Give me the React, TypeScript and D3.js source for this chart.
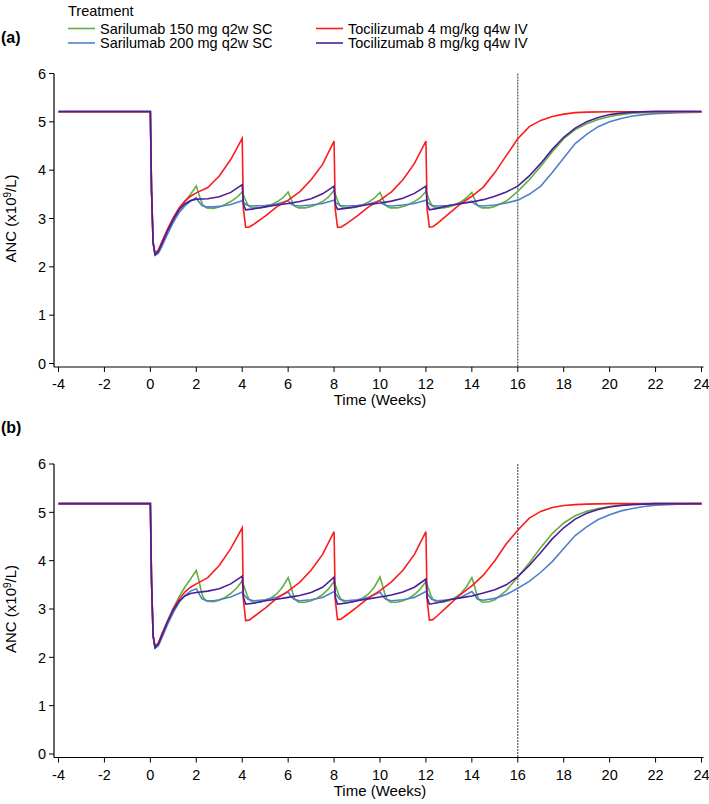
import React from "react";
import * as d3 from "d3";

type Pt = [number, number];

const weekTicks = [-4, -2, 0, 2, 4, 6, 8, 10, 12, 14, 16, 18, 20, 22, 24];
const ancTicks = [0, 1, 2, 3, 4, 5, 6];
const treatments = [
  "Sarilumab 150 mg q2w SC",
  "Sarilumab 200 mg q2w SC",
  "Tocilizumab 4 mg/kg q4w IV",
  "Tocilizumab 8 mg/kg q4w IV",
];
const colors = ["#62af45", "#5080ca", "#fb1c1c", "#4b1e98"];

// panel (a)
const aSari150: Pt[] = [
  [-4, 5.2], [0, 5.2], [0.05, 3.6], [0.12, 2.5], [0.2, 2.27], [0.35, 2.33], [0.5, 2.48], [0.75, 2.74], [1, 2.97], [1.25, 3.18], [1.5, 3.34], [1.75, 3.5], [2, 3.67],
  [2.1, 3.52], [2.2, 3.38], [2.3, 3.27], [2.45, 3.22], [2.75, 3.21], [3, 3.24], [3.25, 3.29], [3.5, 3.35], [3.75, 3.43], [4, 3.55],
  [4.1, 3.43], [4.2, 3.32], [4.3, 3.25], [4.45, 3.22], [4.75, 3.22], [5, 3.24], [5.25, 3.28], [5.5, 3.34], [5.75, 3.42], [6, 3.55],
  [6.1, 3.43], [6.2, 3.32], [6.3, 3.25], [6.45, 3.22], [6.75, 3.22], [7, 3.25], [7.25, 3.29], [7.5, 3.35], [7.75, 3.44], [8, 3.58],
  [8.1, 3.44], [8.2, 3.32], [8.3, 3.25], [8.45, 3.22], [8.75, 3.22], [9, 3.24], [9.25, 3.28], [9.5, 3.34], [9.75, 3.42], [10, 3.54],
  [10.1, 3.43], [10.2, 3.32], [10.3, 3.25], [10.45, 3.22], [10.75, 3.22], [11, 3.25], [11.25, 3.29], [11.5, 3.35], [11.75, 3.43], [12, 3.56],
  [12.1, 3.44], [12.2, 3.32], [12.3, 3.25], [12.45, 3.22], [12.75, 3.22], [13, 3.24], [13.25, 3.28], [13.5, 3.34], [13.75, 3.42], [14, 3.54],
  [14.1, 3.42], [14.2, 3.31], [14.3, 3.25], [14.45, 3.22], [14.75, 3.22], [15, 3.25], [15.5, 3.36], [16, 3.56], [16.5, 3.8], [17, 4.08],
  [17.5, 4.38], [18, 4.65], [18.5, 4.84], [19, 4.96], [19.5, 5.05], [20, 5.11], [20.5, 5.15], [21, 5.18], [22, 5.2], [24, 5.2],
];
const aSari200: Pt[] = [
  [-4, 5.2], [0, 5.2], [0.05, 3.6], [0.12, 2.5], [0.22, 2.24], [0.35, 2.28], [0.5, 2.42], [0.75, 2.68], [1, 2.92], [1.25, 3.12], [1.5, 3.26], [1.75, 3.36], [2, 3.43],
  [2.1, 3.35], [2.25, 3.27], [2.45, 3.24], [2.75, 3.24], [3, 3.25], [3.5, 3.29], [4, 3.37],
  [4.1, 3.31], [4.25, 3.27], [4.5, 3.26], [5, 3.27], [5.5, 3.3], [6, 3.37],
  [6.1, 3.31], [6.25, 3.27], [6.5, 3.26], [7, 3.28], [7.5, 3.31], [8, 3.38],
  [8.1, 3.32], [8.25, 3.27], [8.5, 3.26], [9, 3.27], [9.5, 3.3], [10, 3.37],
  [10.1, 3.31], [10.25, 3.27], [10.5, 3.26], [11, 3.28], [11.5, 3.31], [12, 3.38],
  [12.1, 3.32], [12.25, 3.27], [12.5, 3.26], [13, 3.27], [13.5, 3.3], [14, 3.36],
  [14.1, 3.31], [14.25, 3.27], [14.5, 3.26], [15, 3.28], [15.5, 3.32], [16, 3.38], [16.5, 3.5], [17, 3.67], [17.5, 3.95], [18, 4.25],
  [18.5, 4.55], [19, 4.74], [19.5, 4.9], [20, 5.0], [20.5, 5.07], [21, 5.12], [21.5, 5.15], [22, 5.17], [23, 5.19], [24, 5.2],
];
const aToci4: Pt[] = [
  [-4, 5.21], [0, 5.21], [0.05, 3.6], [0.12, 2.5], [0.2, 2.28], [0.35, 2.35], [0.5, 2.52], [0.75, 2.78], [1, 3.02], [1.25, 3.22], [1.5, 3.36], [1.75, 3.46], [2, 3.53], [2.5, 3.64], [3, 3.88], [3.5, 4.22], [4, 4.66],
  [4.05, 3.2], [4.15, 2.82], [4.3, 2.82], [4.5, 2.88], [5, 3.05], [5.5, 3.24], [6, 3.38], [6.5, 3.55], [7, 3.8], [7.5, 4.12], [8, 4.6],
  [8.05, 3.2], [8.15, 2.82], [8.3, 2.82], [8.5, 2.88], [9, 3.05], [9.5, 3.24], [10, 3.38], [10.5, 3.55], [11, 3.8], [11.5, 4.14], [12, 4.6],
  [12.05, 3.2], [12.15, 2.82], [12.3, 2.83], [12.5, 2.9], [13, 3.1], [13.5, 3.3], [14, 3.46], [14.5, 3.65], [15, 3.95], [15.5, 4.3], [16, 4.65],
  [16.5, 4.9], [17, 5.03], [17.5, 5.11], [18, 5.16], [18.5, 5.19], [19, 5.2], [20, 5.21], [24, 5.21],
];
const aToci8: Pt[] = [
  [-4, 5.22], [0, 5.22], [0.05, 3.6], [0.12, 2.5], [0.2, 2.25], [0.35, 2.32], [0.5, 2.48], [0.75, 2.75], [1, 2.98], [1.25, 3.18], [1.5, 3.3], [1.75, 3.37], [2, 3.4], [2.5, 3.41], [3, 3.45], [3.5, 3.54], [4, 3.7],
  [4.05, 3.3], [4.15, 3.18], [4.5, 3.2], [5, 3.24], [5.5, 3.28], [6, 3.31], [6.5, 3.35], [7, 3.41], [7.5, 3.51], [8, 3.67],
  [8.05, 3.3], [8.15, 3.19], [8.5, 3.21], [9, 3.25], [9.5, 3.29], [10, 3.32], [10.5, 3.36], [11, 3.42], [11.5, 3.52], [12, 3.67],
  [12.05, 3.3], [12.15, 3.18], [12.5, 3.21], [13, 3.27], [13.5, 3.31], [14, 3.34], [14.5, 3.39], [15, 3.46], [15.5, 3.55], [16, 3.67],
  [16.5, 3.88], [17, 4.14], [17.5, 4.43], [18, 4.68], [18.5, 4.87], [19, 5.0], [19.5, 5.09], [20, 5.15], [20.5, 5.18], [21, 5.2], [22, 5.22], [24, 5.22],
];

// panel (b)
const bSari150: Pt[] = [
  [-4, 5.18], [0, 5.18], [0.05, 3.6], [0.12, 2.45], [0.2, 2.21], [0.35, 2.28], [0.5, 2.45], [0.75, 2.75], [1, 3.02], [1.25, 3.25], [1.5, 3.45], [1.75, 3.62], [2, 3.8],
  [2.1, 3.62], [2.2, 3.4], [2.3, 3.24], [2.45, 3.16], [2.75, 3.15], [3, 3.18], [3.25, 3.24], [3.5, 3.32], [3.75, 3.43], [4, 3.58],
  [4.1, 3.44], [4.2, 3.3], [4.3, 3.2], [4.45, 3.14], [4.75, 3.14], [5, 3.17], [5.25, 3.23], [5.5, 3.31], [5.75, 3.45], [6, 3.65],
  [6.1, 3.5], [6.2, 3.33], [6.3, 3.2], [6.45, 3.14], [6.75, 3.14], [7, 3.17], [7.25, 3.22], [7.5, 3.3], [7.75, 3.41], [8, 3.57],
  [8.1, 3.44], [8.2, 3.3], [8.3, 3.2], [8.45, 3.14], [8.75, 3.14], [9, 3.17], [9.25, 3.23], [9.5, 3.31], [9.75, 3.45], [10, 3.66],
  [10.1, 3.5], [10.2, 3.33], [10.3, 3.2], [10.45, 3.14], [10.75, 3.14], [11, 3.17], [11.25, 3.22], [11.5, 3.3], [11.75, 3.41], [12, 3.57],
  [12.1, 3.44], [12.2, 3.3], [12.3, 3.2], [12.45, 3.14], [12.75, 3.14], [13, 3.17], [13.25, 3.23], [13.5, 3.31], [13.75, 3.45], [14, 3.65],
  [14.1, 3.5], [14.2, 3.32], [14.3, 3.2], [14.45, 3.14], [14.75, 3.15], [15, 3.19], [15.5, 3.38], [16, 3.66], [16.5, 3.95], [17, 4.27],
  [17.5, 4.56], [18, 4.78], [18.5, 4.93], [19, 5.02], [19.5, 5.08], [20, 5.12], [20.5, 5.15], [21, 5.17], [22, 5.18], [24, 5.18],
];
const bSari200: Pt[] = [
  [-4, 5.18], [0, 5.18], [0.05, 3.6], [0.12, 2.45], [0.22, 2.19], [0.35, 2.24], [0.5, 2.4], [0.75, 2.68], [1, 2.93], [1.25, 3.14], [1.5, 3.28], [1.75, 3.37], [2, 3.42],
  [2.1, 3.33], [2.25, 3.21], [2.45, 3.17], [2.75, 3.17], [3, 3.19], [3.5, 3.25], [4, 3.35],
  [4.1, 3.28], [4.25, 3.2], [4.5, 3.17], [5, 3.19], [5.5, 3.24], [6, 3.35],
  [6.1, 3.28], [6.25, 3.2], [6.5, 3.17], [7, 3.19], [7.5, 3.24], [8, 3.36],
  [8.1, 3.29], [8.25, 3.2], [8.5, 3.17], [9, 3.19], [9.5, 3.24], [10, 3.35],
  [10.1, 3.28], [10.25, 3.2], [10.5, 3.17], [11, 3.19], [11.5, 3.24], [12, 3.36],
  [12.1, 3.29], [12.25, 3.2], [12.5, 3.17], [13, 3.19], [13.5, 3.24], [14, 3.36],
  [14.1, 3.3], [14.25, 3.2], [14.5, 3.18], [15, 3.22], [15.5, 3.3], [16, 3.43], [16.5, 3.57], [17, 3.76], [17.5, 3.98], [18, 4.25],
  [18.5, 4.52], [19, 4.7], [19.5, 4.85], [20, 4.95], [20.5, 5.03], [21, 5.08], [21.5, 5.12], [22, 5.15], [23, 5.17], [24, 5.18],
];
const bToci4: Pt[] = [
  [-4, 5.18], [0, 5.18], [0.05, 3.6], [0.12, 2.45], [0.2, 2.22], [0.35, 2.3], [0.5, 2.48], [0.75, 2.75], [1, 3.0], [1.25, 3.2], [1.5, 3.35], [1.75, 3.45], [2, 3.52], [2.5, 3.65], [3, 3.9], [3.5, 4.25], [4, 4.68],
  [4.05, 3.2], [4.15, 2.76], [4.3, 2.77], [4.5, 2.84], [5, 3.02], [5.5, 3.22], [6, 3.37], [6.5, 3.55], [7, 3.8], [7.5, 4.13], [8, 4.6],
  [8.05, 3.2], [8.15, 2.78], [8.3, 2.79], [8.5, 2.86], [9, 3.04], [9.5, 3.23], [10, 3.38], [10.5, 3.56], [11, 3.8], [11.5, 4.13], [12, 4.6],
  [12.05, 3.2], [12.15, 2.77], [12.3, 2.78], [12.5, 2.86], [13, 3.08], [13.5, 3.3], [14, 3.48], [14.5, 3.7], [15, 4.0], [15.5, 4.35], [16, 4.63],
  [16.5, 4.88], [17, 5.02], [17.5, 5.1], [18, 5.14], [18.5, 5.16], [19, 5.17], [20, 5.18], [24, 5.18],
];
const bToci8: Pt[] = [
  [-4, 5.18], [0, 5.18], [0.05, 3.6], [0.12, 2.45], [0.2, 2.2], [0.35, 2.28], [0.5, 2.45], [0.75, 2.74], [1, 2.98], [1.25, 3.16], [1.5, 3.27], [1.75, 3.32], [2, 3.34], [2.5, 3.37], [3, 3.42], [3.5, 3.52], [4, 3.68],
  [4.05, 3.25], [4.15, 3.1], [4.5, 3.12], [5, 3.17], [5.5, 3.2], [6, 3.24], [6.5, 3.28], [7, 3.34], [7.5, 3.45], [8, 3.66],
  [8.05, 3.25], [8.15, 3.1], [8.5, 3.12], [9, 3.17], [9.5, 3.21], [10, 3.25], [10.5, 3.29], [11, 3.35], [11.5, 3.45], [12, 3.62],
  [12.05, 3.24], [12.15, 3.1], [12.5, 3.13], [13, 3.19], [13.5, 3.23], [14, 3.27], [14.5, 3.33], [15, 3.4], [15.5, 3.5], [16, 3.67],
  [16.5, 3.9], [17, 4.17], [17.5, 4.45], [18, 4.68], [18.5, 4.86], [19, 4.98], [19.5, 5.06], [20, 5.11], [20.5, 5.14], [21, 5.16], [22, 5.18], [24, 5.18],
];

const FONT = "'Liberation Sans', Arial, sans-serif";
const W = 709;
const H = 804;

// draw order: green, blue, red, purple
const ORDER = [0, 1, 2, 3];

function Panel({ tag, top, series }: { tag: string; top: number; series: Pt[][] }) {
  const x = d3.scaleLinear().domain([-4, 24]).range([58.5, 701.5]);
  const y = d3.scaleLinear().domain([0, 6]).range([top + 290, top]);
  const axisY = y(0) + 3.5;
  const axisX = 54;
  const line = d3
    .line<Pt>()
    .x((d) => x(d[0]))
    .y((d) => y(d[1]));

  return (
    <g>
      <text x={1} y={top - 31} fontFamily={FONT} fontWeight="bold" fontSize={16}>
        {tag}
      </text>

      {/* y axis */}
      <line x1={axisX} x2={axisX} y1={y(6)} y2={axisY} stroke="#000" strokeWidth={1.2} />
      {ancTicks.map((t) => (
        <g key={t}>
          <line x1={axisX - 5} x2={axisX} y1={y(t)} y2={y(t)} stroke="#000" strokeWidth={1} />
          <text x={axisX - 8} y={y(t)} dy="0.36em" textAnchor="end" fontFamily={FONT} fontSize={14.5}>
            {t}
          </text>
        </g>
      ))}
      <text
        transform={`translate(16,${(y(0) + y(6)) / 2}) rotate(-90)`}
        textAnchor="middle"
        fontFamily={FONT}
        fontSize={15}
      >
        ANC (x10<tspan dy="-5" fontSize={10}>9</tspan>
        <tspan dy="5">/L)</tspan>
      </text>

      {/* x axis */}
      <line x1={axisX} x2={x(24) + 2} y1={axisY} y2={axisY} stroke="#000" strokeWidth={1.2} />
      {weekTicks.map((t) => (
        <g key={t}>
          <line x1={x(t)} x2={x(t)} y1={axisY} y2={axisY + 5} stroke="#000" strokeWidth={1} />
          <text x={x(t)} y={axisY + 22} textAnchor="middle" fontFamily={FONT} fontSize={14.5}>
            {t}
          </text>
        </g>
      ))}
      <text x={(x(-4) + x(24)) / 2} y={axisY + 38} textAnchor="middle" fontFamily={FONT} fontSize={15}>
        Time (Weeks)
      </text>

      {/* end of treatment */}
      <line
        x1={x(16)}
        x2={x(16)}
        y1={y(6)}
        y2={axisY}
        stroke="#333"
        strokeWidth={1}
        strokeDasharray="2,1"
      />

      {ORDER.map((i) => (
        <path key={i} d={line(series[i]) ?? ""} fill="none" stroke={colors[i]} strokeWidth={1.6} />
      ))}
    </g>
  );
}

function Legend() {
  const rows = [
    { i: 0, x: 68, y: 28.5 },
    { i: 1, x: 68, y: 43 },
    { i: 2, x: 316, y: 28.5 },
    { i: 3, x: 316, y: 43 },
  ];
  return (
    <g fontFamily={FONT} fontSize={14.5}>
      <text x={68} y={15.5}>Treatment</text>
      {rows.map((r) => (
        <g key={r.i}>
          <line x1={r.x} x2={r.x + 27} y1={r.y} y2={r.y} stroke={colors[r.i]} strokeWidth={1.6} />
          <text x={r.x + 32} y={r.y} dy="0.35em">
            {treatments[r.i]}
          </text>
        </g>
      ))}
    </g>
  );
}

export default function App() {
  return (
    <svg
      width={W}
      height={H}
      style={{ position: "absolute", left: 0, top: 0, background: "#fff" }}
    >
      <Legend />
      <Panel tag="(a)" top={73.5} series={[aSari150, aSari200, aToci4, aToci8]} />
      <Panel tag="(b)" top={464} series={[bSari150, bSari200, bToci4, bToci8]} />
    </svg>
  );
}
